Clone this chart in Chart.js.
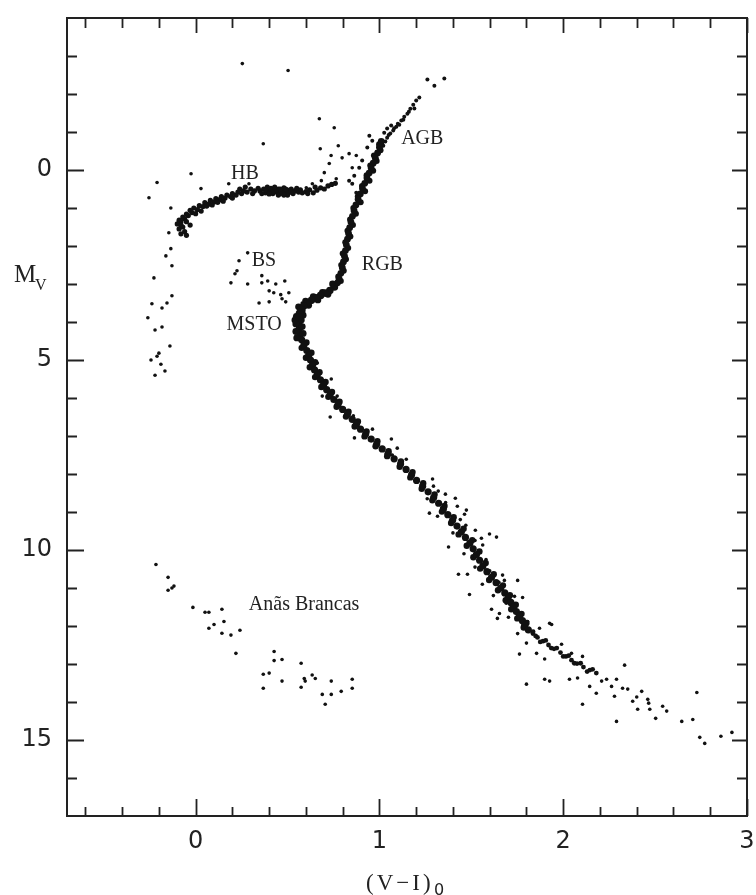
<!DOCTYPE html>
<html>
<head>
<meta charset="utf-8">
<script src="https://cdn.jsdelivr.net/npm/chart.js@4.4.1/dist/chart.umd.min.js"></script>
<style>
  html, body { margin: 0; padding: 0; background: #fff; }
  canvas { display: block; }
</style>
</head>
<body>
<canvas id="cmd" width="756" height="895"></canvas>
<script>
// Colour-magnitude diagram, (V-I)0 vs Mv. Points as [colour, Mv].

// tick labels and tick marks
const xLabelTicks = [0, 1, 2, 3];
const yLabelTicks = [0, 5, 10, 15];
const xTickMarks = [-0.6, -0.4, -0.2, 0, 0.2, 0.4, 0.6, 0.8, 1, 1.2, 1.4, 1.6, 1.8, 2, 2.2, 2.4, 2.6, 2.8, 3];
const yTickMarks = [-3, -2, -1, 0, 1, 2, 3, 4, 5, 6, 7, 8, 9, 10, 11, 12, 13, 14, 15, 16];

// dense ridge of the red giant branch
const rgbRidge = [
  [1.01, -0.75], [1.0, -0.6], [0.99, -0.45], [0.978, -0.31], [0.966, -0.18], [0.955, -0.05],
  [0.944, 0.08], [0.932, 0.21], [0.92, 0.35], [0.908, 0.49], [0.896, 0.63], [0.884, 0.77],
  [0.872, 0.92], [0.862, 1.07], [0.853, 1.22], [0.845, 1.37], [0.838, 1.52], [0.832, 1.67],
  [0.826, 1.82], [0.82, 1.97], [0.815, 2.12], [0.81, 2.27], [0.804, 2.42], [0.798, 2.57],
  [0.79, 2.72], [0.78, 2.86], [0.772, 2.97]
];
const rgbEdge = [
  [0.998, -0.68], [1.006, -0.52], [0.97, -0.38], [0.985, -0.24], [0.95, -0.12], [0.966, 0.02],
  [0.93, 0.14], [0.946, 0.28], [0.905, 0.42], [0.922, 0.56], [0.882, 0.7], [0.898, 0.85],
  [0.858, 1.0], [0.872, 1.15], [0.84, 1.3], [0.856, 1.45], [0.826, 1.6], [0.842, 1.75],
  [0.814, 1.9], [0.83, 2.05], [0.8, 2.2], [0.818, 2.35], [0.792, 2.5], [0.806, 2.65],
  [0.776, 2.8], [0.79, 2.92]
];

// subgiant branch and turnoff
const sgbRidge = [
  [0.755, 3.08], [0.73, 3.17], [0.705, 3.24], [0.68, 3.3], [0.655, 3.36], [0.63, 3.43],
  [0.607, 3.5], [0.588, 3.58], [0.574, 3.67], [0.565, 3.77], [0.562, 3.87]
];
const sgbEdge = [
  [0.745, 3.0], [0.72, 3.27], [0.69, 3.22], [0.665, 3.42], [0.64, 3.33], [0.615, 3.56],
  [0.598, 3.45], [0.58, 3.7], [0.56, 3.6], [0.548, 3.85], [0.575, 3.95], [0.545, 4.05],
  [0.58, 4.12], [0.545, 4.25], [0.585, 4.3], [0.55, 4.42], [0.54, 3.95], [0.585, 3.82]
];

// main sequence ridge, bright part
const msRidge = [
  [0.565, 3.93], [0.562, 4.06], [0.563, 4.19], [0.568, 4.33], [0.577, 4.47], [0.589, 4.61],
  [0.605, 4.75], [0.615, 4.88], [0.625, 5.0], [0.636, 5.13], [0.647, 5.26], [0.662, 5.39],
  [0.679, 5.52], [0.696, 5.65], [0.713, 5.78], [0.732, 5.91], [0.752, 6.04], [0.775, 6.17],
  [0.8, 6.3], [0.826, 6.43], [0.852, 6.56], [0.875, 6.69], [0.897, 6.82], [0.925, 6.95],
  [0.955, 7.08], [0.985, 7.21], [1.015, 7.34], [1.047, 7.47], [1.08, 7.6], [1.115, 7.74],
  [1.145, 7.88], [1.175, 8.02], [1.202, 8.17], [1.235, 8.32], [1.265, 8.47], [1.295, 8.62],
  [1.322, 8.77], [1.348, 8.92], [1.372, 9.07], [1.398, 9.22], [1.422, 9.37], [1.446, 9.52],
  [1.468, 9.67], [1.492, 9.82], [1.51, 9.97], [1.528, 10.12], [1.545, 10.27], [1.563, 10.42],
  [1.585, 10.57], [1.61, 10.72], [1.635, 10.86], [1.66, 11.0], [1.682, 11.13], [1.7, 11.26],
  [1.715, 11.38], [1.73, 11.5], [1.745, 11.62], [1.762, 11.74], [1.778, 11.86], [1.79, 11.98],
  [1.81, 12.1]
];
const msEdge = [
  [0.603, 4.54], [0.577, 4.68], [0.63, 4.81], [0.6, 4.94], [0.65, 5.06], [0.621, 5.19],
  [0.674, 5.32], [0.65, 5.45], [0.707, 5.58], [0.684, 5.71], [0.742, 5.84], [0.722, 5.97],
  [0.783, 6.1], [0.767, 6.23], [0.832, 6.36], [0.818, 6.49], [0.883, 6.62], [0.865, 6.75],
  [0.93, 6.88], [0.919, 7.01], [0.989, 7.14], [0.979, 7.27], [1.05, 7.4], [1.042, 7.53],
  [1.117, 7.67], [1.11, 7.81], [1.18, 7.95], [1.168, 8.09], [1.238, 8.24], [1.23, 8.39],
  [1.3, 8.54], [1.288, 8.69], [1.354, 8.84], [1.34, 8.99], [1.404, 9.14], [1.39, 9.29],
  [1.458, 9.44], [1.431, 9.59], [1.505, 9.74], [1.475, 9.89], [1.544, 10.04], [1.511, 10.19],
  [1.578, 10.34], [1.548, 10.49], [1.622, 10.64], [1.597, 10.79], [1.672, 10.93], [1.645, 11.06],
  [1.71, 11.19], [1.687, 11.32], [1.742, 11.44], [1.717, 11.56], [1.773, 11.68], [1.75, 11.8],
  [1.8, 11.92], [1.785, 12.04]
];
// main sequence, fainter thinner end
const msTail = [
  [1.835, 12.2], [1.86, 12.3], [1.89, 12.4], [1.92, 12.5], [1.95, 12.6], [1.985, 12.7],
  [2.015, 12.8], [2.045, 12.9], [2.075, 12.99], [2.11, 13.08], [2.145, 13.16], [2.18, 13.24],
  [1.836, 12.15], [1.85, 12.26], [1.875, 12.42], [1.905, 12.38], [1.935, 12.58], [1.965, 12.58],
  [2.0, 12.8], [2.03, 12.78], [2.06, 12.98], [2.095, 12.98], [2.13, 13.2], [2.16, 13.14]
];

// upper giant branch / AGB, thinner
const agbStars = [
  [1.353, -2.41], [1.299, -2.22], [1.261, -2.38], [1.217, -1.91], [1.2, -1.83], [1.19, -1.62],
  [1.184, -1.72], [1.168, -1.61], [1.16, -1.53], [1.152, -1.48], [1.135, -1.4], [1.13, -1.32],
  [1.119, -1.3], [1.108, -1.19], [1.1, -1.22], [1.092, -1.14], [1.08, -1.1], [1.075, -1.04],
  [1.064, -1.17], [1.059, -0.96], [1.05, -0.92], [1.042, -1.09], [1.042, -0.85], [1.026, -0.98],
  [1.032, -0.75], [1.021, -0.64], [1.015, -0.72], [1.004, -0.53], [1.0, -0.69], [0.961, -0.77],
  [0.945, -0.9], [0.934, -0.59], [0.906, -0.25], [0.89, -0.06], [0.863, 0.15], [0.852, 0.36],
  [0.835, 0.28], [0.874, 0.6]
];

// horizontal branch: red clump and blue tail
const hbStars = [
  [0.35, 0.55], [0.37, 0.5], [0.38, 0.6], [0.4, 0.55], [0.41, 0.48], [0.42, 0.62], [0.43, 0.53],
  [0.44, 0.58], [0.45, 0.5], [0.46, 0.62], [0.47, 0.55], [0.48, 0.47], [0.49, 0.6], [0.5, 0.53],
  [0.51, 0.58], [0.52, 0.5], [0.53, 0.62], [0.54, 0.55], [0.56, 0.58], [0.57, 0.52], [0.39, 0.45],
  [0.45, 0.66], [0.5, 0.66], [0.36, 0.62], [0.55, 0.48], [0.42, 0.57], [0.47, 0.6], [0.44, 0.52],
  [0.49, 0.5], [0.6, 0.57], [0.62, 0.52], [0.64, 0.6], [0.66, 0.53], [0.68, 0.47], [0.7, 0.5],
  [0.72, 0.42], [0.74, 0.38], [0.76, 0.35], [0.65, 0.45], [0.61, 0.62],
  [0.4, 0.63], [0.43, 0.45], [0.46, 0.5], [0.48, 0.66], [0.52, 0.58], [0.38, 0.52], [0.58, 0.6],
  [0.32, 0.55], [0.3, 0.5], [0.28, 0.58], [0.26, 0.55], [0.25, 0.62], [0.23, 0.58], [0.22, 0.66],
  [0.2, 0.62], [0.19, 0.7], [0.17, 0.66], [0.16, 0.74], [0.14, 0.7], [0.13, 0.78], [0.11, 0.75],
  [0.1, 0.84], [0.08, 0.8], [0.07, 0.9], [0.05, 0.86], [0.04, 0.96], [0.02, 0.94], [0.01, 1.04],
  [-0.01, 1.0], [-0.02, 1.12], [-0.03, 1.06], [-0.04, 1.2], [-0.05, 1.16], [-0.06, 1.28],
  [-0.07, 1.24], [-0.08, 1.36], [-0.09, 1.32], [-0.08, 1.45], [-0.1, 1.42], [-0.09, 1.55],
  [-0.07, 1.5], [-0.06, 1.62], [-0.08, 1.68], [-0.05, 1.72], [-0.03, 1.45], [0.0, 1.15],
  [0.06, 0.95], [0.12, 0.85], [0.27, 0.45], [0.34, 0.48], [0.31, 0.62],
  [0.2, 0.74], [0.15, 0.82], [0.09, 0.92], [0.03, 1.08], [-0.05, 1.36], [0.24, 0.5]
];

// field stars near the HB and giants
const hbScatter = [
  [0.673, -1.35], [0.754, -1.11], [0.678, -0.56], [0.776, -0.64], [0.737, -0.38], [0.797, -0.32],
  [0.874, -0.38], [0.835, -0.43], [0.727, -0.17], [0.852, -0.06], [0.7, 0.07], [0.765, 0.23],
  [0.684, 0.28], [0.635, 0.36], [0.602, 0.47], [0.368, -0.69], [0.254, -2.8], [0.503, -2.62],
  [-0.025, 0.1], [-0.21, 0.33], [-0.254, 0.73], [-0.135, 1.0], [-0.146, 1.65], [0.029, 0.49],
  [0.18, 0.36], [0.29, 0.36]
];

// extreme blue stars left of the HB
const blueTail = [
  [-0.135, 2.07], [-0.162, 2.26], [-0.129, 2.52], [-0.227, 2.84], [-0.129, 3.31], [-0.156, 3.5],
  [-0.238, 3.52], [-0.183, 3.63], [-0.26, 3.89], [-0.183, 4.13], [-0.221, 4.21], [-0.14, 4.63],
  [-0.2, 4.82], [-0.21, 4.9], [-0.243, 5.0], [-0.189, 5.11], [-0.167, 5.29], [-0.221, 5.4]
];

// blue stragglers
const blueStragglers = [
  [0.236, 2.39], [0.225, 2.65], [0.214, 2.73], [0.192, 2.97], [0.283, 2.18], [0.283, 3.0],
  [0.36, 2.78], [0.36, 2.97], [0.392, 2.92], [0.436, 3.0], [0.485, 2.92], [0.4, 3.18],
  [0.425, 3.23], [0.463, 3.28], [0.507, 3.23], [0.47, 3.39], [0.49, 3.47], [0.345, 3.5],
  [0.4, 3.47], [0.58, 3.5]
];

// stars scattered about the main sequence
const msScatter = [
  [0.662, 5.08], [0.738, 5.5], [0.689, 5.95], [0.77, 5.95], [0.732, 6.5], [0.858, 6.47],
  [0.962, 6.82], [0.864, 7.05], [1.065, 7.08], [1.097, 7.32], [1.07, 7.5], [1.146, 7.61],
  [1.178, 8.0], [1.289, 8.13], [1.294, 8.32], [1.245, 8.26], [1.038, 7.47], [1.359, 8.53],
  [1.413, 8.64], [1.424, 8.85], [1.473, 8.95], [1.463, 9.06], [1.522, 9.48], [1.555, 9.69],
  [1.599, 9.58], [1.637, 9.66], [1.562, 9.87], [1.376, 9.92], [1.272, 9.03], [1.316, 9.11],
  [1.43, 10.64], [1.479, 10.64], [1.67, 10.66], [1.752, 10.8], [1.68, 10.8], [1.49, 11.17],
  [1.779, 11.25], [1.735, 11.22], [1.61, 11.56], [1.653, 11.67], [1.642, 11.8], [1.702, 11.77],
  [1.937, 11.96], [1.871, 12.06], [1.806, 11.88], [1.926, 11.93], [1.752, 12.2], [1.8, 12.45],
  [1.762, 12.74], [1.855, 12.72], [1.899, 12.87], [1.991, 12.48], [2.045, 12.72], [2.105, 12.8],
  [1.8, 13.53], [1.899, 13.4], [1.926, 13.45], [2.034, 13.4], [2.105, 14.06], [2.144, 13.59],
  [2.18, 13.77], [2.334, 13.03], [2.29, 13.4], [2.263, 13.59], [2.279, 13.85], [2.323, 13.64],
  [2.351, 13.66], [2.378, 13.98], [2.427, 13.72], [2.4, 13.87], [2.46, 13.93], [2.465, 14.03],
  [2.405, 14.19], [2.471, 14.19], [2.503, 14.43], [2.541, 14.11], [2.563, 14.24], [2.29, 14.51],
  [2.645, 14.51], [2.705, 14.46], [2.727, 13.75], [2.743, 14.93], [2.77, 15.09], [2.858, 14.9],
  [2.918, 14.8], [2.078, 13.37], [2.209, 13.45], [2.236, 13.4], [2.133, 13.19],
  [1.44, 9.2], [1.47, 9.35], [1.4, 9.55], [1.52, 9.75], [1.46, 10.1], [1.58, 10.25],
  [1.52, 10.45], [1.6, 10.55], [1.56, 10.9], [1.65, 10.85], [1.62, 11.2], [1.69, 11.4],
  [1.36, 8.75], [1.32, 8.45], [1.26, 8.65]
];

// white dwarf sequence
const whiteDwarfs = [
  [-0.216, 10.38], [-0.15, 10.72], [-0.118, 10.95], [-0.15, 11.06], [-0.129, 11.0], [-0.015, 11.51],
  [0.051, 11.64], [0.072, 11.64], [0.143, 11.56], [0.072, 12.06], [0.1, 11.96], [0.154, 11.88],
  [0.143, 12.19], [0.192, 12.24], [0.241, 12.11], [0.219, 12.72], [0.427, 12.67], [0.427, 12.91],
  [0.47, 12.88], [0.368, 13.27], [0.4, 13.24], [0.47, 13.45], [0.574, 12.98], [0.591, 13.38],
  [0.596, 13.45], [0.634, 13.29], [0.651, 13.38], [0.368, 13.64], [0.574, 13.61], [0.689, 13.8],
  [0.705, 14.06], [0.738, 13.45], [0.738, 13.8], [0.792, 13.72], [0.852, 13.4], [0.852, 13.64]
];

// region labels, anchored in data units
const regionLabels = [
  { text: "HB", x: 0.268, y: 0.1 },
  { text: "AGB", x: 1.233, y: -0.83 },
  { text: "BS", x: 0.372, y: 2.39 },
  { text: "RGB", x: 1.016, y: 2.49 },
  { text: "MSTO", x: 0.318, y: 4.08 },
  { text: "Anãs Brancas", x: 0.59, y: 11.43 }
];

const toXY = (arr) => arr.map(p => ({ x: p[0], y: p[1] }));

function starSet(points, radius) {
  return {
    data: toXY(points),
    pointRadius: radius,
    pointHoverRadius: radius,
    pointBackgroundColor: "#111",
    pointBorderWidth: 0,
    showLine: false
  };
}

const frameAndText = {
  id: "frameAndText",
  afterDraw(chart) {
    const ctx = chart.ctx;
    const a = chart.chartArea;
    const xs = chart.scales.x;
    const ys = chart.scales.y;
    ctx.save();
    ctx.strokeStyle = "#222";
    ctx.lineWidth = 2;
    ctx.strokeRect(a.left, a.top, a.right - a.left, a.bottom - a.top);

    // inward ticks on all four sides
    ctx.lineWidth = 1.8;
    ctx.beginPath();
    xTickMarks.forEach(v => {
      const px = Math.round(xs.getPixelForValue(v)) + 0.5;
      const major = Math.abs(v - Math.round(v)) < 1e-6;
      ctx.moveTo(px, a.bottom); ctx.lineTo(px, a.bottom - (major ? 17 : 9));
      ctx.moveTo(px, a.top); ctx.lineTo(px, a.top + (major ? 15 : 10));
    });
    yTickMarks.forEach(v => {
      const py = Math.round(ys.getPixelForValue(v)) + 0.5;
      const major = v % 5 === 0;
      ctx.moveTo(a.left, py); ctx.lineTo(a.left + (major ? 17 : 10), py);
      ctx.moveTo(a.right, py); ctx.lineTo(a.right - (major ? 15 : 10), py);
    });
    ctx.stroke();

    // region labels
    ctx.fillStyle = "#222";
    ctx.font = "20px 'Liberation Serif', serif";
    ctx.textAlign = "center";
    ctx.textBaseline = "middle";
    regionLabels.forEach(l => {
      ctx.fillText(l.text, xs.getPixelForValue(l.x), ys.getPixelForValue(l.y));
    });

    // x axis title (V-I)0
    ctx.textAlign = "left";
    ctx.textBaseline = "alphabetic";
    ctx.font = "23px 'Liberation Serif', serif";
    ctx.letterSpacing = "3px";
    ctx.fillText("(V\u2212I)", 366, 890);
    ctx.letterSpacing = "0px";
    ctx.font = "16px 'DejaVu Sans', sans-serif";
    ctx.fillText("0", 434, 895);

    // y axis title Mv
    ctx.font = "25px 'Liberation Serif', serif";
    ctx.fillText("M", 14, 282);
    ctx.font = "16px 'Liberation Serif', serif";
    ctx.fillText("V", 35, 290);
    ctx.restore();
  }
};

new Chart(document.getElementById("cmd"), {
  type: "scatter",
  data: {
    datasets: [
      starSet(rgbRidge, 3.4),
      starSet(rgbEdge, 3),
      starSet(sgbRidge, 3.8),
      starSet(sgbEdge, 3.4),
      starSet(msRidge, 3.6),
      starSet(msEdge, 3.2),
      starSet(msTail, 2.4),
      starSet(agbStars, 2),
      starSet(hbStars, 2.6),
      starSet(hbScatter, 1.8),
      starSet(blueTail, 1.8),
      starSet(blueStragglers, 1.8),
      starSet(msScatter, 1.8),
      starSet(whiteDwarfs, 1.8)
    ]
  },
  options: {
    responsive: false,
    animation: false,
    devicePixelRatio: 1,
    layout: { padding: { top: 18, right: 9, left: 0, bottom: 0 } },
    plugins: {
      legend: { display: false },
      tooltip: { enabled: false }
    },
    scales: {
      x: {
        type: "linear",
        min: -0.7,
        max: 3,
        grid: { display: false },
        border: { display: false },
        afterBuildTicks: s => { s.ticks = xLabelTicks.map(v => ({ value: v })); },
        afterFit: s => { s.height = 79; s.paddingLeft = 0; s.paddingRight = 0; },
        ticks: {
          autoSkip: false,
          maxRotation: 0,
          padding: 3,
          color: "#222",
          font: { family: "DejaVu Sans", size: 24 }
        }
      },
      y: {
        type: "linear",
        min: -4,
        max: 17,
        reverse: true,
        grid: { display: false },
        border: { display: false },
        afterBuildTicks: s => { s.ticks = yLabelTicks.map(v => ({ value: v })); },
        afterFit: s => { s.width = 67; s.paddingTop = 0; s.paddingBottom = 0; },
        ticks: {
          autoSkip: false,
          padding: 7,
          color: "#222",
          font: { family: "DejaVu Sans", size: 24 }
        }
      }
    }
  },
  plugins: [frameAndText]
});
</script>
</body>
</html>
